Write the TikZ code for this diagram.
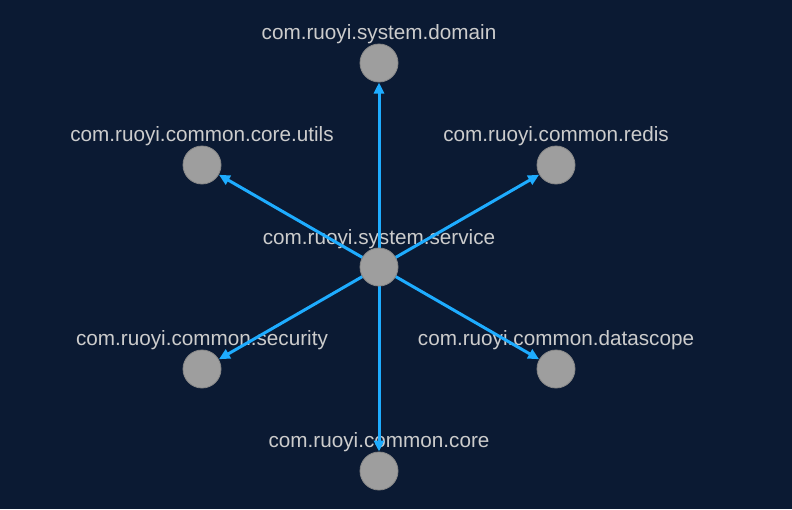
\documentclass[tikz,border=0pt]{standalone}
\usepackage{fontspec}
\setmainfont{Liberation Sans}
\usetikzlibrary{arrows.meta}
\definecolor{bg}{RGB}{11,26,51}
\definecolor{edgec}{RGB}{30,172,255}
\definecolor{nodec}{RGB}{158,158,158}
\definecolor{nodeb}{RGB}{136,136,136}
\definecolor{textc}{RGB}{204,204,204}
\tikzset{
  pkg/.style={circle, fill=nodec, draw=nodeb, line width=0.8pt, minimum size=38pt, inner sep=0pt},
  lbl/.style={text=textc, font=\fontsize{20.7}{22}\selectfont, inner sep=0pt, anchor=base},
  dep/.style={draw=edgec, line width=3pt, -{Stealth[length=11pt,width=10pt,inset=0pt]}}
}
\begin{document}
\begin{tikzpicture}[x=1pt,y=-1pt]
\fill[bg] (0,0) rectangle (792,509);
\useasboundingbox (0,0) rectangle (792,509);
% labels
\node[lbl] (tc) at (379,244) {com.ruoyi.system.service};
\node[lbl] (tt) at (379,39) {com.ruoyi.system.domain};
\node[lbl] (tul) at (202,141) {com.ruoyi.common.core.utils};
\node[lbl] (tur) at (556,141) {com.ruoyi.common.redis};
\node[lbl] (tll) at (202,345) {com.ruoyi.common.security};
\node[lbl] (tlr) at (556,345) {com.ruoyi.common.datascope};
\node[lbl] (tb) at (379,447) {com.ruoyi.common.core};
% node coordinates
\coordinate (c) at (379,267);
\coordinate (t) at (379,63);
\coordinate (ul) at (202,165);
\coordinate (ur) at (556,165);
\coordinate (ll) at (202,369);
\coordinate (lr) at (556,369);
\coordinate (b) at (379,471);
% edges
\foreach \n in {t,ul,ur,ll,lr,b}{
  \draw[dep, shorten >=19.5pt] (c) -- (\n);
}
% circles
\foreach \n in {c,t,ul,ur,ll,lr,b}{
  \node[pkg] (n\n) at (\n) {};
}
\end{tikzpicture}
\end{document}
